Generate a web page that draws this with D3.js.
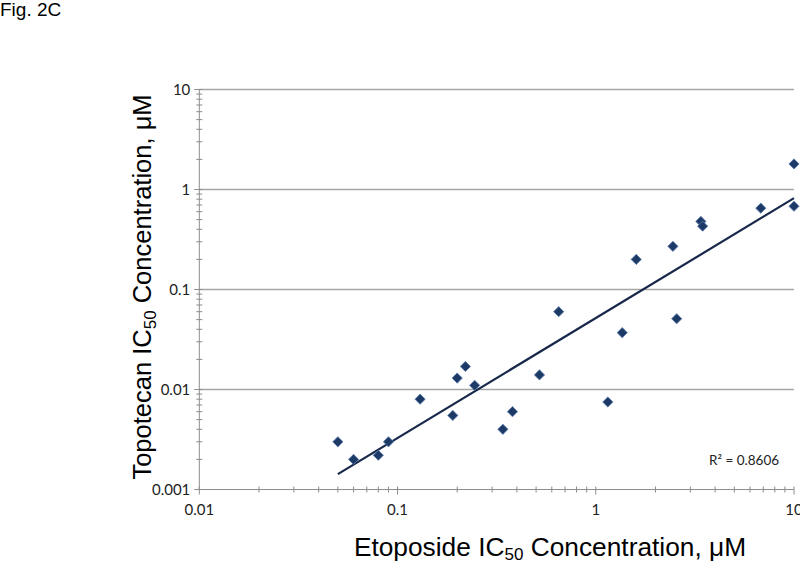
<!DOCTYPE html>
<html><head><meta charset="utf-8">
<script src="https://cdn.jsdelivr.net/npm/d3@7"></script>
<style>body{margin:0;background:#fff}svg{display:block}</style>
</head><body>
<svg id="c" width="800" height="562"></svg>
<script>
const etoposide = [0.05,0.06,0.08,0.09,0.13,0.19,0.2,0.22,0.245,0.34,0.38,0.52,0.65,1.15,1.36,1.6,2.45,2.56,3.39,3.46,6.8,10,10];
const topotecan = [0.003,0.002,0.0022,0.003,0.008,0.0055,0.013,0.017,0.011,0.004,0.006,0.014,0.06,0.0075,0.037,0.2,0.27,0.051,0.48,0.43,0.65,1.8,0.68];
const xTicks = [0.01,0.1,1,10];
const yTicks = [0.001,0.01,0.1,1,10];
const xTickLabels = ["0.01","0.1","1","10"];
const yTickLabels = ["0.001","0.01","0.1","1","10"];
const r2Label = "R\u00B2 = 0.8606";

const svg = d3.select("#c");
const x = d3.scaleLog().domain([0.01,10]).range([199.3,794]);
const y = d3.scaleLog().domain([0.001,10]).range([489.5,89.5]);

function minors(lo, hi){ const out=[]; for(let d=lo; d<hi; d*=10){ for(let k=2;k<=9;k++) out.push(d*k);} return out; }

// gridlines
svg.append("g").selectAll("line").data(yTicks.slice(1)).join("line")
  .attr("x1",x(0.01)).attr("x2",x(10)).attr("y1",d=>y(d)).attr("y2",d=>y(d))
  .attr("stroke","#a6a6a6").attr("stroke-width",1.3);

// axes
const ax = svg.append("g").attr("stroke","#8c8c8c").attr("stroke-width",1);
ax.append("line").attr("x1",x(0.01)).attr("x2",x(0.01)).attr("y1",y(10)).attr("y2",y(0.001));
ax.selectAll(".ym").data(minors(0.001,10)).join("line")
  .attr("x1",x(0.01)-3).attr("x2",x(0.01)+3).attr("y1",d=>y(d)).attr("y2",d=>y(d));
ax.selectAll(".yM").data(yTicks).join("line")
  .attr("x1",x(0.01)-5).attr("x2",x(0.01)+3).attr("y1",d=>y(d)).attr("y2",d=>y(d));
ax.append("line").attr("x1",x(0.01)).attr("x2",x(10)).attr("y1",y(0.001)).attr("y2",y(0.001));
ax.selectAll(".xm").data(minors(0.01,10)).join("line")
  .attr("x1",d=>x(d)).attr("x2",d=>x(d)).attr("y1",y(0.001)-3).attr("y2",y(0.001)+3);
ax.selectAll(".xM").data(xTicks).join("line")
  .attr("x1",d=>x(d)).attr("x2",d=>x(d)).attr("y1",y(0.001)-3).attr("y2",y(0.001)+5);

// tick labels
const tf = "Lato, 'Open Sans', sans-serif";
svg.append("g").selectAll("text").data(yTicks).join("text")
  .attr("x",x(0.01)-9).attr("y",d=>y(d)+5).attr("text-anchor","end")
  .attr("font-family",tf).attr("font-size",15).attr("fill","#222")
  .text((d,i)=>yTickLabels[i]);
svg.append("g").selectAll("text").data(xTicks).join("text")
  .attr("x",d=>x(d)).attr("y",y(0.001)+25).attr("text-anchor","middle")
  .attr("font-family",tf).attr("font-size",15).attr("fill","#222")
  .text((d,i)=>xTickLabels[i]);

// trendline (power fit: linear regression in log-log space)
const lx = etoposide.map(Math.log10), ly = topotecan.map(Math.log10);
const mx = d3.mean(lx), my = d3.mean(ly);
const b = d3.sum(lx.map((v,i)=>(v-mx)*(ly[i]-my))) / d3.sum(lx.map(v=>(v-mx)**2));
const a = my - b*mx;
const xmin = d3.min(etoposide), xmax = d3.max(etoposide);
const f = v => Math.pow(10, a + b*Math.log10(v));
svg.append("line").attr("x1",x(xmin)).attr("y1",y(f(xmin))).attr("x2",x(xmax)).attr("y2",y(f(xmax)))
  .attr("stroke","#17284a").attr("stroke-width",2.2);

// markers
const sym = d3.symbol().type(d3.symbolSquare).size(52);
svg.append("g").selectAll("path").data(etoposide).join("path")
  .attr("d",sym())
  .attr("transform",(d,i)=>`translate(${x(d)},${y(topotecan[i])}) rotate(45)`)
  .attr("fill","#1d3966").attr("stroke","#5a7bab").attr("stroke-width",0.8);

// R² label
svg.append("text").attr("x",709).attr("y",465).attr("font-family",tf).attr("font-size",13.5).attr("fill","#222").text(r2Label);

// titles
const af = "'Liberation Sans', Arial, sans-serif";
svg.append("text").attr("x",0).attr("y",16).attr("font-family",af).attr("font-size",19).text("Fig. 2C");
const xt = svg.append("text").attr("x",550).attr("y",556).attr("text-anchor","middle")
  .attr("font-family",af).attr("font-size",26.3).attr("fill","#000");
xt.append("tspan").text("Etoposide IC");
xt.append("tspan").attr("font-size",17).attr("dy",4).text("50");
xt.append("tspan").attr("dy",-4).text(" Concentration, \u03BCM");
const yt = svg.append("text").attr("transform","translate(151,287) rotate(-90)").attr("text-anchor","middle")
  .attr("font-family",af).attr("font-size",25.5).attr("fill","#000");
yt.append("tspan").text("Topotecan IC");
yt.append("tspan").attr("font-size",17).attr("dy",5).text("50");
yt.append("tspan").attr("dy",-5).text(" Concentration, \u03BCM");
</script>
</body></html>
